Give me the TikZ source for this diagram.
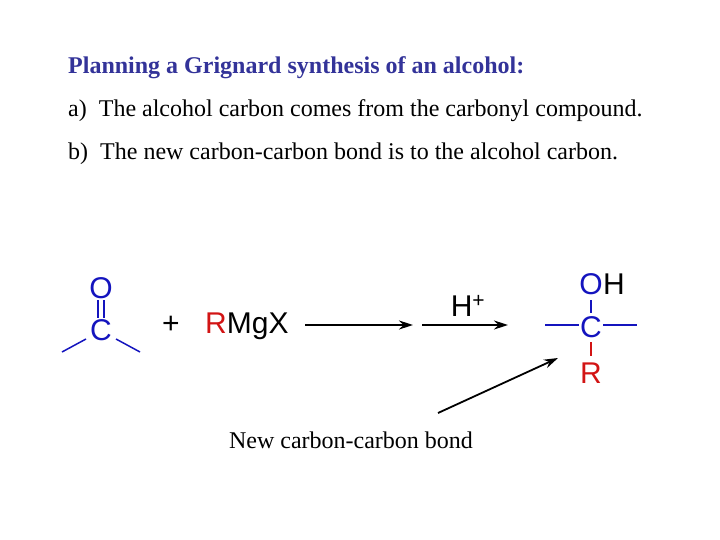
\documentclass[tikz,border=0pt]{standalone}
\usepackage{fontspec}
\usetikzlibrary{arrows.meta}
\setmainfont{Liberation Serif}
\newfontfamily\chem{Liberation Sans}
\definecolor{ttl}{RGB}{51,51,153}
\definecolor{cb}{RGB}{20,20,190}
\definecolor{cr}{RGB}{210,20,20}
\begin{document}
\begin{tikzpicture}[x=1pt,y=-1pt,
  txt/.style={anchor=west,inner sep=0pt,font=\fontsize{24}{26}\selectfont},
  atm/.style={inner sep=0pt,font=\chem\fontsize{30}{32}\selectfont},
  bond/.style={cb,line width=1.5pt},
  rx/.style={line width=1.8pt,-{Stealth[length=14pt,width=9pt]}}]
\useasboundingbox (0,0) rectangle (720,540);
\node[txt,text=ttl,font=\bfseries\fontsize{24}{26}\selectfont] (t) at (68,68) {Planning a Grignard synthesis of an alcohol:};
\node[txt] (a) at (68,111) {a)\enspace The alcohol carbon comes from the carbonyl compound.};
\node[txt] (b) at (68,154) {b)\enspace The new carbon-carbon bond is to the alcohol carbon.};
% ketone
\node[atm,text=cb] (o1) at (101,288) {O};
\node[atm,text=cb] (c1) at (101,330) {C};
\draw[bond] (98,300) -- (98,318) (104,300) -- (104,318);
\coordinate (l1) at (62,352); \coordinate (r1) at (140,352);
\draw[bond] (86,339) -- (l1);
\draw[bond] (116,339) -- (r1);
\node[atm] (plus) at (171,325) {+};
\node[atm,anchor=west] (rmgx) at (205,326) {\textcolor{cr}{R}MgX};
\coordinate (a1s) at (305,325); \coordinate (a1e) at (413,325);
\coordinate (a2s) at (422,325); \coordinate (a2e) at (508,325);
\draw[rx] (a1s) -- (a1e);
\draw[rx] (a2s) -- (a2e);
\node[atm] (h) at (468,306) {H\textsuperscript{+}};
% product
\node[atm,text=cb] (o2) at (591,284) {O};
\node[atm,anchor=west] (h2) at (o2.east) {H};
\node[atm,text=cb] (c2) at (591,327) {C};
\node[atm,text=cr] (r2) at (591,373) {R};
\coordinate (pl) at (545,325); \coordinate (pr) at (637,325);
\coordinate (cl) at (579,325); \coordinate (cr) at (603,325);
\draw[bond] (pl) -- (cl);
\draw[bond] (cr) -- (pr);
\draw[bond] (591,300) -- (591,313);
\draw[cr,line width=1.5pt] (591,342) -- (591,356);
\coordinate (ps) at (438,413); \coordinate (pe) at (558,358);
\draw[rx] (ps) -- (pe);
\node[inner sep=0pt,font=\fontsize{24}{26}\selectfont] (lab) at (351,440) {New carbon-carbon bond};
\end{tikzpicture}
\end{document}
